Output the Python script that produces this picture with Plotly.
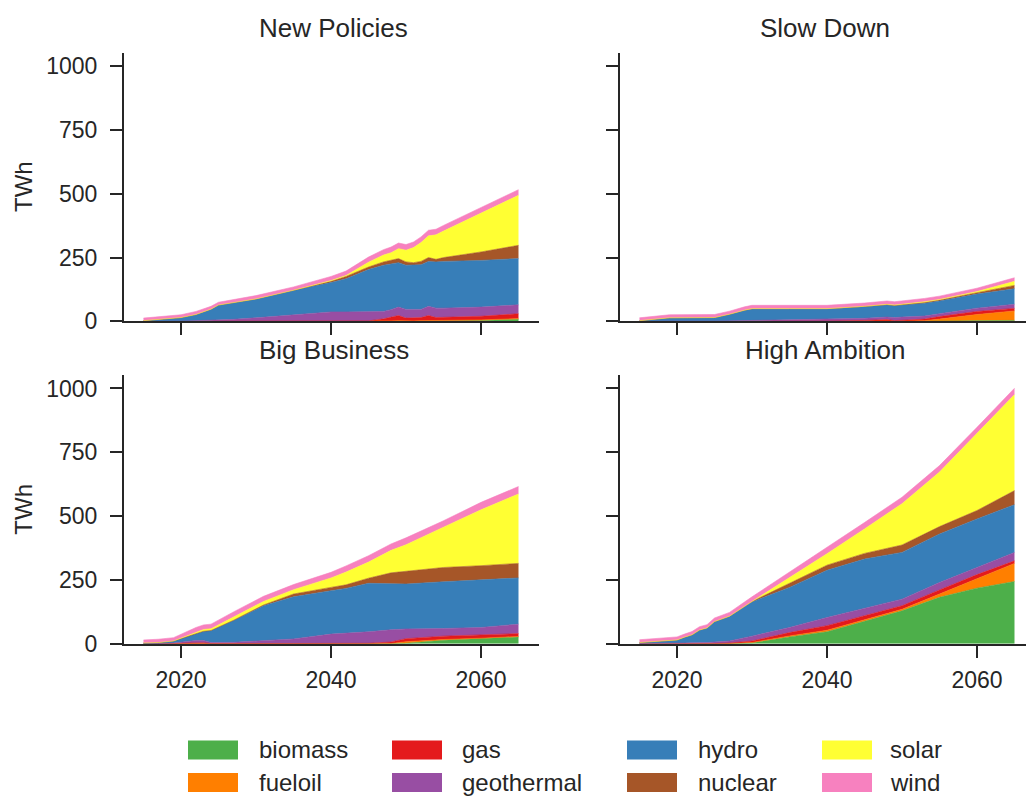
import plotly.graph_objects as go

W, H = 1026, 810          # page height; the photo compresses it to 796
SY = H / 796.0            # reference-pixel -> page-pixel (vertical)

techs = ["biomass", "fueloil", "gas", "geothermal", "hydro", "nuclear", "solar", "wind"]
colors = ["#4daf4a", "#ff7f00", "#e41a1c", "#984ea3", "#377eb8", "#a65628", "#ffff33", "#f781bf"]
scenario_titles = ["New Policies", "Slow Down", "Big Business", "High Ambition"]
y_ticks = [0, 250, 500, 750, 1000]
x_ticks = [2020, 2040, 2060]

# ---- New Policies ----
np_years = [2015, 2018, 2020, 2022, 2024, 2025, 2027, 2030, 2035, 2040, 2042, 2045,
            2047, 2048, 2049, 2050, 2051, 2052, 2053, 2054, 2055, 2060, 2065]
np_biomass = [0, 0, 0, 0, 0, 0, 0, 0, 0, 0, 0, 0, 0, 0, 0, 0, 0, 1, 1, 1, 2, 4, 8]
np_fueloil = [0, 0, 0, 0, 0, 0, 0, 0, 0, 0, 0, 1, 2, 2, 3, 2, 2, 2, 3, 2, 2, 2, 3]
np_gas = [0, 0, 0, 0, 0, 0, 0, 0, 0, 1, 1, 1, 8, 15, 20, 11, 11, 12, 19, 12, 12, 14, 19]
np_geothermal = [0, 0, 1, 3, 4, 5, 8, 14, 26, 36, 36, 37, 29, 29, 33, 34, 34, 32, 36, 37, 36, 36, 35]
np_hydro = [3, 11, 14, 24, 44, 59, 66, 74, 96, 115, 130, 164, 181, 180, 174, 173, 173, 175, 176, 181, 183, 183, 181]
np_nuclear = [0, 0, 0, 0, 0, 0, 0, 0, 0, 5, 9, 10, 13, 13, 16, 13, 10, 13, 15, 10, 15, 33, 52]
np_solar = [0, 0, 0, 0, 0, 0, 0, 0, 0, 3, 4, 19, 27, 30, 39, 46, 59, 74, 85, 96, 104, 152, 196]
np_wind = [10, 11, 11, 12, 11, 11, 12, 13, 13, 16, 17, 20, 21, 22, 22, 22, 22, 22, 22, 22, 22, 22, 22]

# ---- Slow Down ----
sd_years = [2015, 2017, 2019, 2025, 2027, 2029, 2030, 2035, 2040, 2045, 2048, 2049,
            2050, 2053, 2055, 2060, 2065]
sd_biomass = [0, 0, 0, 0, 0, 0, 0, 0, 0, 0, 0, 0, 0, 0, 1, 3, 4]
sd_fueloil = [0, 0, 0, 0, 0, 0, 0, 0, 0, 0, 0, 0, 1, 3, 8, 24, 37]
sd_gas = [0, 0, 0, 0, 0, 0, 0, 0, 1, 4, 7, 3, 4, 6, 10, 12, 10]
sd_geothermal = [0, 1, 1, 1, 2, 4, 5, 6, 7, 8, 10, 12, 12, 12, 11, 13, 16]
sd_hydro = [3, 8, 13, 14, 26, 40, 44, 43, 41, 45, 47, 46, 47, 50, 50, 55, 61]
sd_nuclear = [0, 0, 0, 0, 0, 0, 1, 1, 1, 2, 2, 2, 2, 3, 4, 6, 13]
sd_solar = [0, 0, 0, 0, 0, 0, 0, 0, 0, 0, 1, 1, 1, 3, 2, 4, 16]
sd_wind = [11, 11, 12, 12, 12, 13, 13, 13, 13, 13, 13, 13, 13, 13, 13, 13, 14]

# ---- Big Business ----
bb_years = [2015, 2017, 2019, 2020, 2021, 2022, 2023, 2024, 2027, 2031, 2035, 2040,
            2042, 2045, 2048, 2050, 2055, 2060, 2065]
bb_biomass = [0, 0, 0, 0, 0, 0, 0, 0, 0, 0, 0, 0, 0, 0, 0, 2, 14, 20, 27]
bb_fueloil = [0, 0, 0, 0, 0, 0, 0, 0, 0, 0, 0, 0, 0, 0, 1, 6, 3, 2, 2]
bb_gas = [0, 0, 1, 2, 3, 4, 4, 1, 0, 1, 1, 1, 1, 2, 6, 12, 13, 12, 11]
bb_geothermal = [0, 0, 2, 5, 7, 9, 9, 4, 6, 12, 18, 37, 40, 45, 48, 38, 30, 30, 37]
bb_hydro = [3, 5, 8, 13, 21, 28, 36, 47, 85, 136, 165, 170, 176, 190, 181, 176, 183, 186, 181]
bb_nuclear = [0, 0, 0, 0, 0, 0, 0, 0, 1, 3, 11, 13, 14, 20, 42, 50, 56, 56, 57]
bb_solar = [0, 0, 0, 2, 4, 5, 7, 7, 13, 14, 17, 37, 50, 63, 88, 104, 158, 219, 272]
bb_wind = [12, 13, 13, 16, 17, 18, 18, 18, 20, 20, 20, 22, 24, 25, 25, 27, 25, 29, 29]

# ---- High Ambition ----
ha_years = [2015, 2018, 2020, 2021, 2022, 2023, 2024, 2025, 2027, 2030, 2035, 2040,
            2045, 2050, 2055, 2060, 2065]
ha_biomass = [0, 0, 0, 0, 0, 0, 0, 0, 1, 4, 27, 47, 88, 129, 182, 218, 244]
ha_fueloil = [0, 0, 0, 0, 0, 0, 0, 0, 0, 1, 4, 6, 6, 6, 13, 36, 71]
ha_gas = [0, 0, 0, 0, 0, 0, 0, 1, 2, 6, 13, 18, 16, 14, 16, 17, 10]
ha_geothermal = [1, 1, 2, 3, 4, 4, 5, 6, 8, 19, 20, 32, 30, 26, 29, 28, 33]
ha_hydro = [4, 9, 13, 23, 31, 50, 57, 80, 97, 134, 157, 185, 192, 183, 190, 190, 187]
ha_nuclear = [0, 0, 0, 0, 0, 0, 0, 0, 0, 2, 17, 20, 22, 29, 29, 33, 55]
ha_solar = [0, 0, 0, 0, 0, 0, 0, 0, 0, 0, 20, 45, 96, 162, 214, 301, 376]
ha_wind = [11, 12, 12, 12, 13, 13, 13, 14, 15, 18, 22, 24, 25, 25, 25, 25, 25]

scenarios = [
    (np_years, [np_biomass, np_fueloil, np_gas, np_geothermal, np_hydro, np_nuclear, np_solar, np_wind]),
    (sd_years, [sd_biomass, sd_fueloil, sd_gas, sd_geothermal, sd_hydro, sd_nuclear, sd_solar, sd_wind]),
    (bb_years, [bb_biomass, bb_fueloil, bb_gas, bb_geothermal, bb_hydro, bb_nuclear, bb_solar, bb_wind]),
    (ha_years, [ha_biomass, ha_fueloil, ha_gas, ha_geothermal, ha_hydro, ha_nuclear, ha_solar, ha_wind]),
]

fig = go.Figure()
for i, (years, series) in enumerate(scenarios):
    sfx = "" if i == 0 else str(i + 1)
    for name, col, vals in zip(techs, colors, series):
        fig.add_trace(go.Scatter(
            x=years, y=vals, name=name, mode="lines",
            stackgroup="s%d" % i, fillcolor=col,
            line=dict(width=0.6, color=col),
            xaxis="x" + sfx, yaxis="y" + sfx, showlegend=False,
            hoverinfo="x+y+name",
        ))

# ---- geometry (reference pixels) ----
px_per_year = 7.5
px_per_twh = 0.255
left_px = (124, 539)
right_px = (620, 1026)
top_px = (52.5, 321)      # (top, bottom)
bot_px = (375, 643)
x0_year = 2012.4

def xdom(p):
    return [p[0] / W, p[1] / W]

def pyf(y):
    """reference pixel row -> paper fraction"""
    return 1 - (y * SY) / H

def ydom(p):
    return [pyf(p[1]), pyf(p[0])]

font_fam = "Liberation Sans, Arial, Helvetica, sans-serif"
ink = "#262626"

def xaxis(p, anchor, labels):
    return dict(domain=xdom(p), anchor=anchor,
                range=[x0_year, x0_year + (p[1] - p[0]) / px_per_year],
                tickvals=x_ticks, ticktext=[str(t) for t in x_ticks],
                showticklabels=labels, ticks="outside", ticklen=12, tickwidth=2,
                tickcolor=ink, showline=True, linewidth=2, linecolor=ink,
                showgrid=False, zeroline=False,
                tickfont=dict(family=font_fam, size=23, color=ink),
                ticklabelstandoff=3)

def yaxis(p, anchor, labels):
    return dict(domain=ydom(p), anchor=anchor,
                range=[0, (p[1] - p[0]) / px_per_twh],
                tickvals=y_ticks, showticklabels=labels, ticks="outside",
                ticklen=12, tickwidth=2, tickcolor=ink, showline=True,
                linewidth=2, linecolor=ink, showgrid=False, zeroline=False,
                tickfont=dict(family=font_fam, size=23, color=ink),
                ticklabelstandoff=8)

fig.update_layout(
    width=W, height=H, margin=dict(l=0, r=0, t=0, b=0),
    paper_bgcolor="white", plot_bgcolor="white", showlegend=False,
    xaxis=xaxis(left_px, "y", False),
    yaxis=yaxis(top_px, "x", True),
    xaxis2=xaxis(right_px, "y2", False),
    yaxis2=yaxis(top_px, "x2", False),
    xaxis3=xaxis(left_px, "y3", True),
    yaxis3=yaxis(bot_px, "x3", True),
    xaxis4=xaxis(right_px, "y4", True),
    yaxis4=yaxis(bot_px, "x4", False),
)

annotations = []
title_pos = [(left_px, 28), (right_px, 28), (left_px, 350), (right_px, 350)]
for title, (xp, yp) in zip(scenario_titles, title_pos):
    annotations.append(dict(text=title, xref="paper", yref="paper",
                            x=((xp[0] + min(xp[1], 1035)) / 2 + 2) / W, y=pyf(yp),
                            xanchor="center", yanchor="middle", showarrow=False,
                            font=dict(family=font_fam, size=26, color=ink)))
for yp in (top_px, bot_px):
    annotations.append(dict(text="TWh", xref="paper", yref="paper",
                            x=24 / W, y=pyf((yp[0] + yp[1]) / 2),
                            xanchor="center", yanchor="middle", textangle=-90,
                            showarrow=False,
                            font=dict(family=font_fam, size=24, color=ink)))

# ---- legend (4 columns x 2 rows, column-major) ----
swatch_x = [188, 392, 627, 822]
text_x = [257, 460, 696, 888]
row_y = [749.0, 781.5]
shapes = []
for k, (name, col) in enumerate(zip(techs, colors)):
    c, r = k // 2, k % 2
    shapes.append(dict(type="rect", xref="paper", yref="paper",
                       x0=swatch_x[c] / W, x1=(swatch_x[c] + 50) / W,
                       y0=pyf(row_y[r] + 9.5), y1=pyf(row_y[r] - 9.5),
                       fillcolor=col, line=dict(width=0)))
    annotations.append(dict(text=name, xref="paper", yref="paper",
                            x=text_x[c] / W, y=pyf(row_y[r]),
                            xanchor="left", yanchor="middle", showarrow=False,
                            font=dict(family=font_fam, size=24, color=ink)))

fig.update_layout(annotations=annotations, shapes=shapes)
fig.write_html(
    "out.html",
    config={"displayModeBar": False},
    post_script="document.body.style.margin='0';document.body.style.overflow='hidden';",
)
